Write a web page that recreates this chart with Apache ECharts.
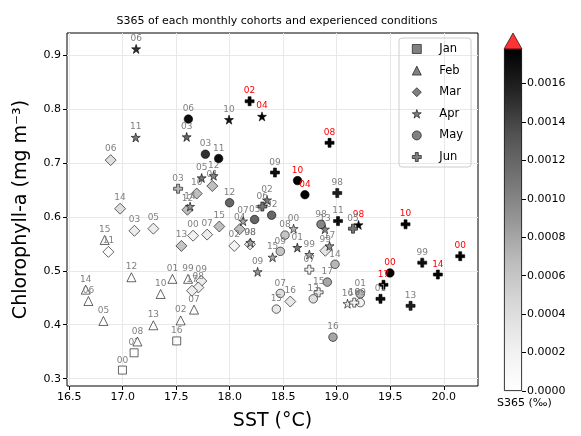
<!DOCTYPE html>
<html><head><meta charset="utf-8">
<script src="https://cdn.jsdelivr.net/npm/echarts@6/dist/echarts.min.js"></script>
<style>html,body{margin:0;padding:0;background:#fff}#c{width:581px;height:436px}</style>
</head><body><div id="c"></div>
<script>
// ---- data: [SST (°C), Chl-a (mg m-3), S365 (‰), year label] ----
const months = ['Jan', 'Feb', 'Mar', 'Apr', 'May', 'Jun'];
const jan = [
  [16.998, 0.316, 0.00002, '00'], [17.107, 0.348, 0.00002, '02'], [17.505, 0.370, 0.00004, '16']
];
const feb = [
  [16.832, 0.557, 0.00003, '15'], [17.082, 0.488, 0.00003, '12'], [16.655, 0.465, 0.00003, '14'],
  [16.680, 0.444, 0.00003, '06'], [16.820, 0.407, 0.00002, '05'], [17.465, 0.485, 0.00003, '01'],
  [17.611, 0.485, 0.00003, '99'], [17.355, 0.457, 0.00003, '10'], [17.667, 0.428, 0.00003, '07'],
  [17.542, 0.408, 0.00003, '02'], [17.287, 0.399, 0.00003, '13'], [17.138, 0.369, 0.00003, '08']
];
const mar = [
  [16.888, 0.705, 0.00040, '06'], [16.976, 0.615, 0.00040, '14'], [17.110, 0.574, 0.00025, '03'],
  [17.287, 0.578, 0.00025, '05'], [16.867, 0.535, 0.00005, '11'], [17.549, 0.546, 0.00060, '13'],
  [17.658, 0.565, 0.00020, '00'], [17.692, 0.643, 0.00065, '10'], [17.605, 0.613, 0.00065, '12'],
  [17.838, 0.657, 0.00065, '01'], [17.789, 0.567, 0.00025, '07'], [17.903, 0.582, 0.00065, '15'],
  [18.093, 0.577, 0.00065, '04'], [18.043, 0.546, 0.00015, '02'], [18.190, 0.549, 0.00030, '98'],
  [17.735, 0.481, 0.00025, '09'], [17.707, 0.469, 0.00025, '08'], [17.648, 0.463, 0.00025, '17'],
  [18.893, 0.537, 0.00035, '99'], [18.566, 0.443, 0.00030, '16']
];
const apr = [
  [17.126, 0.911, 0.00150, '06'], [17.122, 0.747, 0.00110, '11'], [17.598, 0.748, 0.00120, '03'],
  [17.994, 0.780, 0.00165, '10'], [18.302, 0.786, 0.00190, '04'], [17.738, 0.672, 0.00110, '05'],
  [17.850, 0.676, 0.00100, '12'], [17.630, 0.619, 0.00090, '14'], [18.349, 0.631, 0.00110, '02'],
  [18.125, 0.592, 0.00080, '07'], [18.193, 0.552, 0.00080, '08'], [18.597, 0.578, 0.00070, '00'],
  [18.632, 0.543, 0.00110, '01'], [18.401, 0.525, 0.00080, '15'], [18.744, 0.530, 0.00080, '99'],
  [18.261, 0.498, 0.00090, '09'], [18.890, 0.577, 0.00100, '13'], [18.933, 0.546, 0.00090, '17'],
  [19.204, 0.585, 0.00190, '98'], [19.101, 0.439, 0.00030, '16']
];
const may = [
  [17.614, 0.781, 0.00170, '06'], [17.773, 0.716, 0.00150, '03'], [17.897, 0.708, 0.00170, '11'],
  [18.634, 0.667, 0.00190, '10'], [18.703, 0.641, 0.00190, '04'], [17.999, 0.626, 0.00120, '12'],
  [18.392, 0.603, 0.00120, '02'], [18.233, 0.595, 0.00120, '05'], [18.517, 0.566, 0.00060, '08'],
  [18.473, 0.536, 0.00060, '09'], [18.853, 0.586, 0.00100, '98'], [18.984, 0.512, 0.00070, '14'],
  [18.912, 0.479, 0.00080, '17'], [18.781, 0.448, 0.00040, '13'], [18.473, 0.458, 0.00040, '07'],
  [18.436, 0.429, 0.00030, '15'], [18.965, 0.377, 0.00080, '16'], [19.497, 0.496, 0.00190, '00'],
  [19.220, 0.457, 0.00070, '01'], [19.220, 0.441, 0.00020, '99']
];
const jun = [
  [18.186, 0.814, 0.00190, '02'], [18.933, 0.737, 0.00190, '08'], [18.423, 0.682, 0.00170, '09'],
  [19.005, 0.644, 0.00160, '98'], [19.012, 0.592, 0.00170, '11'], [18.305, 0.619, 0.00110, '06'],
  [17.518, 0.652, 0.00070, '03'], [18.744, 0.502, 0.00020, '07'], [18.831, 0.460, 0.00030, '15'],
  [19.164, 0.441, 0.00020, '16'], [19.152, 0.578, 0.00110, '05'], [19.643, 0.586, 0.00190, '10'],
  [20.154, 0.527, 0.00190, '00'], [19.799, 0.515, 0.00170, '99'], [19.945, 0.493, 0.00190, '14'],
  [19.437, 0.474, 0.00190, '17'], [19.409, 0.448, 0.00170, '01'], [19.690, 0.435, 0.00160, '13']
];
const cohorts = [jan, feb, mar, apr, may, jun];
const xTicks = [16.5, 17.0, 17.5, 18.0, 18.5, 19.0, 19.5, 20.0];
const yTicks = [0.3, 0.4, 0.5, 0.6, 0.7, 0.8, 0.9];
const cbTicks = [0, 0.0002, 0.0004, 0.0006, 0.0008, 0.0010, 0.0012, 0.0014, 0.0016];
const cbMax = 0.00178;

// ---- styles ----
const greys = ['#ffffff', '#f0f0f0', '#d9d9d9', '#bdbdbd', '#969696', '#737373', '#525252', '#252525', '#000000'];
const STAR = 'path://M0,-1L0.2245,-0.309L0.951,-0.309L0.363,0.118L0.588,0.809L0,0.382L-0.588,0.809L-0.363,0.118L-0.951,-0.309L-0.2245,-0.309Z';
const PLUS = 'path://M1,0H2V1H3V2H2V3H1V2H0V1H1Z';
const symbols = ['rect', 'triangle', 'diamond', STAR, 'circle', PLUS];
const sizes = [8, 9, 11, 9, 8.5, 9];
const FONT = 'DejaVu Sans';

const chart = echarts.init(document.getElementById('c'), null, {renderer: 'canvas'});

const series = cohorts.map((arr, i) => ({
  type: 'scatter',
  name: months[i],
  xAxisIndex: 0, yAxisIndex: 0,
  symbol: symbols[i],
  symbolSize: sizes[i],
  itemStyle: {color: '#808080', borderColor: '#000', borderWidth: 0.6, opacity: 1},
  label: {show: true, position: 'top', distance: 1, fontSize: 9, fontFamily: FONT,
          formatter: p => p.value[3]},
  data: arr.map(d => ({value: d, label: {color: d[2] > cbMax ? '#ff0000' : '#808080'}})),
  z: 2 + i
}));

// colorbar
const stops = greys.map((c, i) => ({offset: i / (greys.length - 1), color: c}));
series.push({
  type: 'bar', xAxisIndex: 1, yAxisIndex: 1, silent: true,
  data: [cbMax], barWidth: '100%',
  itemStyle: {color: new echarts.graphic.LinearGradient(0, 1, 0, 0, stops), borderColor: '#000', borderWidth: 0.8}
});
series.push({
  type: 'scatter', xAxisIndex: 1, yAxisIndex: 1, silent: true, clip: false,
  data: [[0, cbMax]], symbol: 'triangle', symbolSize: [18, 16], symbolOffset: [0, -8],
  itemStyle: {color: '#ff0000', borderColor: '#000', borderWidth: 0.8}
});

chart.setOption({
  animation: false,
  backgroundColor: '#fff',
  textStyle: {fontFamily: FONT},
  title: {
    text: 'S365 of each monthly cohorts and experienced conditions',
    left: 272, top: 11, textAlign: 'center',
    textStyle: {fontSize: 11, fontWeight: 'normal', color: '#000', fontFamily: FONT}
  },
  legend: {
    orient: 'vertical', left: 399, top: 38,
    data: months.map((m, i) => ({name: m, icon: symbols[i],
      itemStyle: {color: '#808080', borderColor: '#000', borderWidth: 0.6}})),
    itemWidth: 9, itemHeight: 9, itemGap: 9.6,
    padding: [5, 8, 4, 13],
    borderColor: '#cccccc', borderWidth: 1, borderRadius: 3,
    textStyle: {fontSize: 11.5, color: '#000', fontFamily: FONT, padding: [0, 0, 0, 13]}
  },
  visualMap: {
    type: 'continuous', show: false, min: 0, max: cbMax, dimension: 2,
    seriesIndex: [0, 1, 2, 3, 4, 5],
    inRange: {color: greys},
    outOfRange: {color: '#ff0000'}
  },
  grid: [
    {left: 67, right: 103, top: 33, bottom: 45, show: true, borderColor: '#000', borderWidth: 1, containLabel: false},
    {left: 504, width: 18, top: 49, bottom: 45, show: false}
  ],
  xAxis: [{
    type: 'value', gridIndex: 0, min: 16.48, max: 20.32, minInterval: 0.5, maxInterval: 0.5,
    name: 'SST (°C)', nameLocation: 'middle', nameGap: 26,
    nameTextStyle: {fontSize: 19, color: '#000', fontFamily: FONT},
    axisLine: {show: false},
    axisTick: {show: true, length: 4, lineStyle: {color: '#000'}, customValues: xTicks},
    axisLabel: {fontSize: 11, color: '#000', margin: 6, formatter: v => v.toFixed(1), customValues: xTicks},
    splitLine: {show: true, lineStyle: {color: '#e8e8e8', width: 1}}
  }, {
    type: 'category', gridIndex: 1, data: ['c'], show: false, boundaryGap: true
  }],
  yAxis: [{
    type: 'value', gridIndex: 0, min: 0.2865, max: 0.9405, minInterval: 0.1, maxInterval: 0.1,
    name: 'Chlorophyll-a (mg m⁻³)', nameLocation: 'middle', nameGap: 36,
    nameTextStyle: {fontSize: 19, color: '#000', fontFamily: FONT},
    axisLine: {show: false},
    axisTick: {show: true, length: 4, lineStyle: {color: '#000'}, customValues: yTicks},
    axisLabel: {fontSize: 11, color: '#000', margin: 6, formatter: v => v.toFixed(1), customValues: yTicks},
    splitLine: {show: true, lineStyle: {color: '#e8e8e8', width: 1}}
  }, {
    type: 'value', gridIndex: 1, min: 0, max: cbMax, interval: 0.0002, position: 'right',
    axisLine: {show: false},
    axisTick: {show: true, length: 4, lineStyle: {color: '#000'}, customValues: cbTicks},
    axisLabel: {fontSize: 11, color: '#000', margin: 5, formatter: v => v.toFixed(4), customValues: cbTicks},
    splitLine: {show: false}
  }],
  graphic: [{
    type: 'text', left: 497, top: 398,
    style: {text: 'S365 (‰)', fontSize: 11, fontFamily: FONT, fill: '#000'}
  }],
  series: series
});
</script>
</body></html>
